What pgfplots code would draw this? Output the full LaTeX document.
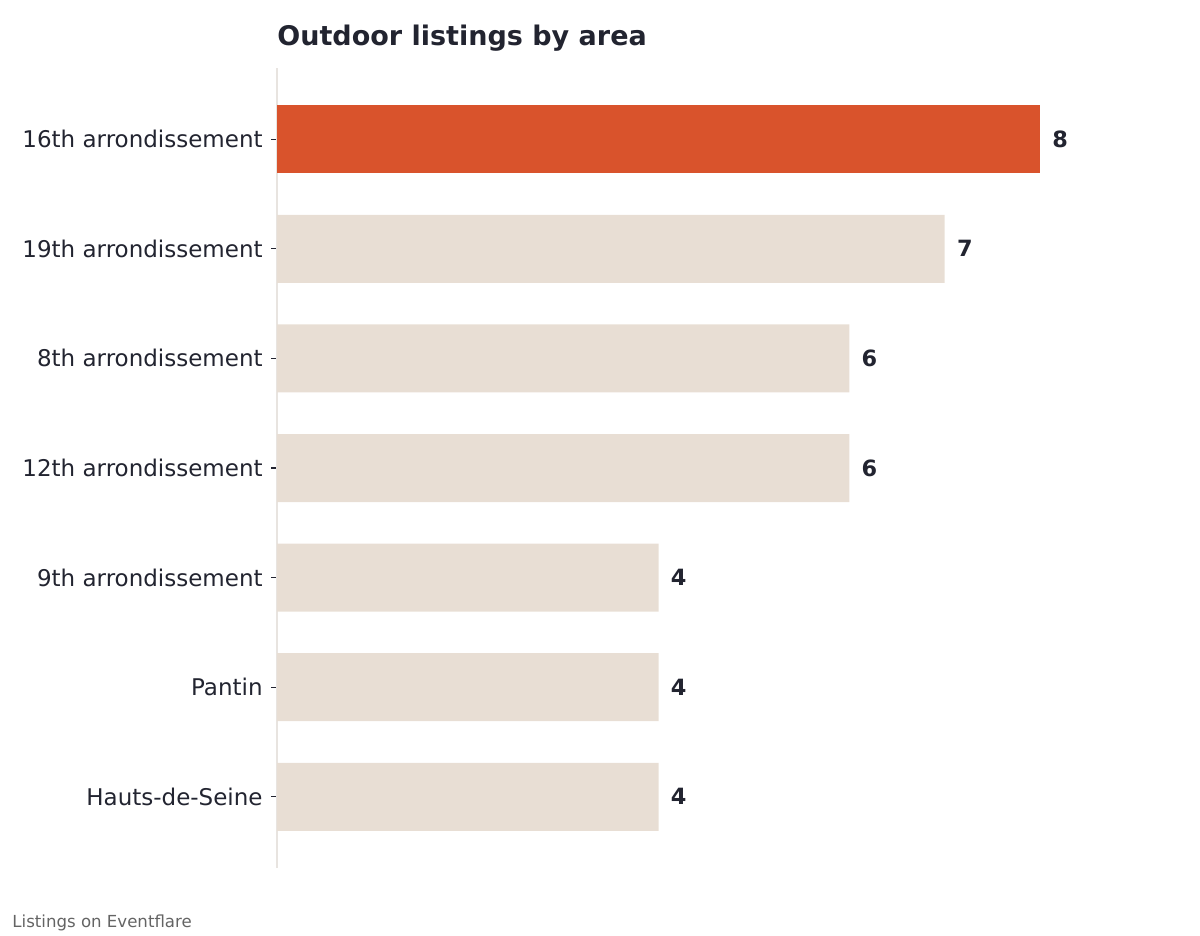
\documentclass[border=0pt]{standalone}
\usepackage{pgfplots}
\pgfplotsset{compat=1.18}
\usepackage{fontspec}
\setmainfont{DejaVu Sans}
\definecolor{hl}{RGB}{217,83,44}
\definecolor{base}{RGB}{232,222,212}
\definecolor{ink}{RGB}{34,36,48}
\definecolor{spine}{RGB}{232,228,224}
\definecolor{foot}{RGB}{100,100,100}
\begin{document}
\begin{tikzpicture}[x=1pt,y=1pt]
\path[use as bounding box] (0,0) rectangle (600,468);
\begin{axis}[
  at={(138.5pt,34pt)}, anchor=south west,
  scale only axis, width=448.3pt, height=400pt,
  xmin=0, xmax=9.4, ymin=-0.65, ymax=6.65,
  y dir=reverse,
  xbar, bar width=34pt,
  axis x line=none,
  axis y line*=left,
  y axis line style={draw=spine, line width=0.8pt, -},
  ytick={0,1,2,3,4,5,6},
  yticklabels={16th arrondissement,19th arrondissement,8th arrondissement,12th arrondissement,9th arrondissement,Pantin,Hauts-de-Seine},
  ytick style={draw=ink, line width=0.6pt},
  tick align=outside, major tick length=3pt,
  yticklabel style={font=\fontsize{11.5}{13}\selectfont, text=ink, inner sep=0pt, xshift=-4pt},
  /pgf/number format/assume math mode=true,
  nodes near coords,
  every node near coord/.append style={font=\fontsize{11.2}{13}\selectfont\bfseries, text=ink, anchor=west, inner sep=0pt, xshift=6pt},
  clip=false,
]
\addplot[fill=hl, draw=none, bar shift=0pt] coordinates {(8,0)};
\addplot[fill=base, draw=none, bar shift=0pt] coordinates {(7,1) (6,2) (6,3) (4,4) (4,5) (4,6)};
\end{axis}
\node[anchor=west, inner sep=0pt, text=ink, font=\fontsize{13.5}{16}\selectfont\bfseries] at (138.5,449) {Outdoor listings by area};
\node[anchor=west, inner sep=0pt, text=foot, font=\fontsize{8.3}{10}\selectfont] at (6,6.5) {Listings on Eventflare};
\end{tikzpicture}
\end{document}
